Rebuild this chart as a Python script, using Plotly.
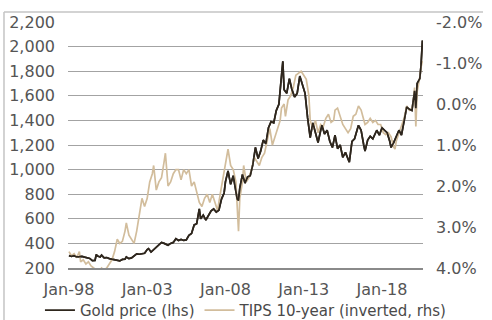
import plotly.graph_objects as go

# ---- data ----
gold_dates = ["1998-01","1998-03","1998-05","1998-07","1998-09","1998-11","1999-01","1999-03","1999-05","1999-07",
              "1999-09","1999-10","1999-11","2000-01","2000-02","2000-04","2000-06","2000-08","2000-10","2000-12",
              "2001-02","2001-04","2001-06","2001-08","2001-09","2001-11","2002-01","2002-03","2002-05","2002-07",
              "2002-09","2002-11","2003-01","2003-02","2003-04","2003-06","2003-08","2003-10","2003-12","2004-02",
              "2004-04","2004-05","2004-07","2004-09","2004-11","2005-01","2005-03","2005-05","2005-07","2005-09",
              "2005-11","2006-01","2006-03","2006-05","2006-06","2006-08","2006-10","2006-12","2007-02","2007-04",
              "2007-06","2007-08","2007-10","2007-12","2008-01","2008-03","2008-05","2008-07","2008-09","2008-10",
              "2008-11","2008-12","2009-02","2009-04","2009-06","2009-08","2009-10","2009-12","2010-02","2010-04",
              "2010-06","2010-08","2010-10","2010-12","2011-02","2011-04","2011-06","2011-08","2011-09","2011-10",
              "2011-12","2012-02","2012-04","2012-06","2012-08","2012-10","2012-12","2013-02","2013-04","2013-06",
              "2013-08","2013-10","2013-12","2014-02","2014-03","2014-05","2014-07","2014-09","2014-11","2015-01",
              "2015-03","2015-05","2015-07","2015-09","2015-11","2015-12","2016-02","2016-04","2016-07","2016-09",
              "2016-11","2016-12","2017-02","2017-04","2017-06","2017-09","2017-11","2018-01","2018-03","2018-05",
              "2018-07","2018-08","2018-10","2018-12","2019-02","2019-04","2019-06","2019-08","2019-10","2019-12",
              "2020-01","2020-02","2020-03","2020-04","2020-06","2020-07","2020-08"]
gold_values = [300,295,300,290,292,295,288,285,278,260,
               262,310,298,290,305,282,285,276,270,268,
               262,258,270,272,290,276,282,296,315,312,
               318,320,350,358,330,350,362,382,408,400,
               392,385,400,408,438,424,432,424,428,465,
               480,550,560,680,600,630,590,630,665,680,
               655,670,760,810,900,990,880,950,830,760,
               750,850,960,890,940,950,1040,1180,1090,1150,
               1240,1210,1340,1390,1380,1480,1530,1800,1880,1650,
               1620,1740,1650,1590,1620,1760,1690,1620,1420,1260,
               1380,1300,1220,1320,1360,1290,1320,1230,1180,1280,
               1170,1200,1100,1140,1080,1060,1230,1250,1360,1320,
               1200,1150,1240,1270,1250,1320,1280,1340,1320,1300,
               1230,1180,1220,1270,1320,1280,1400,1510,1490,1480,
               1560,1640,1500,1700,1740,1850,2050]

tips_dates = ["1998-01","1998-03","1998-05","1998-07","1998-09","1998-10","1998-12","1999-02","1999-04","1999-06",
              "1999-08","1999-10","1999-12","2000-02","2000-04","2000-06","2000-08","2000-10","2000-12","2001-02",
              "2001-04","2001-06","2001-08","2001-09","2001-11","2002-01","2002-03","2002-05","2002-07","2002-09",
              "2002-11","2003-01","2003-03","2003-05","2003-06","2003-08","2003-10","2003-12","2004-02","2004-03",
              "2004-05","2004-07","2004-09","2004-11","2005-01","2005-03","2005-05","2005-07","2005-09","2005-11",
              "2006-01","2006-03","2006-05","2006-07","2006-09","2006-11","2007-01","2007-03","2007-05","2007-07",
              "2007-09","2007-11","2008-01","2008-03","2008-05","2008-07","2008-09","2008-10","2008-11","2008-12",
              "2009-02","2009-03","2009-05","2009-07","2009-09","2009-11","2010-01","2010-03","2010-05","2010-07",
              "2010-09","2010-11","2011-01","2011-03","2011-05","2011-07","2011-08","2011-10","2011-11","2012-01",
              "2012-03","2012-05","2012-07","2012-09","2012-11","2013-01","2013-03","2013-05","2013-06","2013-08",
              "2013-10","2013-12","2014-02","2014-04","2014-06","2014-08","2014-10","2014-12","2015-01","2015-03",
              "2015-05","2015-07","2015-09","2015-11","2016-01","2016-03","2016-05","2016-07","2016-09","2016-11",
              "2016-12","2017-02","2017-04","2017-06","2017-08","2017-10","2017-12","2018-02","2018-04","2018-06",
              "2018-08","2018-10","2018-11","2018-12","2019-02","2019-04","2019-06","2019-08","2019-10","2019-12",
              "2020-01","2020-02","2020-03","2020-04","2020-05","2020-06","2020-07","2020-08"]
tips_values = [3.6,3.7,3.65,3.75,3.6,3.85,3.8,3.9,3.85,3.95,
               4.0,4.05,4.1,4.0,4.05,4.0,3.9,3.8,3.6,3.3,
               3.4,3.35,3.1,2.9,3.2,3.3,3.4,3.1,2.7,2.3,
               2.5,2.3,1.9,1.7,1.5,2.1,1.9,1.8,1.4,1.2,
               2.0,1.9,1.7,1.6,1.6,1.85,1.6,1.7,1.6,2.0,
               1.9,2.15,2.4,2.5,2.3,2.2,2.4,2.2,2.4,2.6,
               2.2,1.8,1.4,1.1,1.5,1.6,1.9,2.7,3.1,2.3,
               1.9,1.5,1.9,1.8,1.6,1.3,1.4,1.5,1.3,1.2,
               0.9,0.6,1.0,0.8,0.6,0.4,0.1,0.0,0.3,-0.1,
               -0.2,-0.4,-0.7,-0.75,-0.8,-0.7,-0.6,-0.2,0.4,0.6,
               0.4,0.7,0.5,0.55,0.35,0.25,0.45,0.4,0.15,0.1,
               0.3,0.5,0.6,0.7,0.6,0.3,0.25,0.05,0.15,0.35,
               0.5,0.45,0.35,0.45,0.4,0.5,0.5,0.7,0.75,0.7,
               0.8,1.05,1.1,0.9,0.7,0.55,0.35,0.05,0.15,0.1,
               -0.05,-0.4,0.55,-0.3,-0.45,-0.65,-0.9,-1.05]

x_tick_vals = ["1998-01-01","2003-01-01","2008-01-01","2013-01-01","2018-01-01"]
x_tick_text = ["Jan-98","Jan-03","Jan-08","Jan-13","Jan-18"]
left_tick_vals = [200,400,600,800,1000,1200,1400,1600,1800,2000,2200]
left_tick_text = ["200","400","600","800","1,000","1,200","1,400","1,600","1,800","2,000","2,200"]
right_tick_vals = [-2,-1,0,1,2,3,4]
right_tick_text = ["-2.0%","-1.0%","0.0%","1.0%","2.0%","3.0%","4.0%"]
gold_range = [200, 2200]
tips_range = [4, -2]   # inverted

FONT = "DejaVu Sans"
TXT = "#555555"
GOLD_C = "#2e261d"
TIPS_C = "#d2bd9c"

fig = go.Figure()
# gold on the left axis (this axis carries the gridlines)
fig.add_trace(go.Scatter(x=gold_dates, y=gold_values, mode="lines", showlegend=False, hoverinfo="skip",
                         line=dict(color=GOLD_C, width=1.7), yaxis="y"))
# TIPS on the right (inverted) axis
fig.add_trace(go.Scatter(x=tips_dates, y=tips_values, mode="lines", name="TIPS 10-year (inverted, rhs)",
                         legendrank=2, line=dict(color=TIPS_C, width=1.7), yaxis="y2"))
# gold again on an identical hidden scale so that it sits above the TIPS line
fig.add_trace(go.Scatter(x=gold_dates, y=gold_values, mode="lines", name="Gold price (lhs)",
                         legendrank=1, line=dict(color=GOLD_C, width=1.7), yaxis="y3"))

fig.update_layout(
    width=492, height=320,
    margin=dict(l=68, r=69, t=22, b=52, autoexpand=False),
    paper_bgcolor="white", plot_bgcolor="white",
    font=dict(family=FONT, size=16, color=TXT),
    showlegend=True,
    legend=dict(orientation="h", x=-0.079, xanchor="left", y=-0.172, yanchor="middle",
                font=dict(family=FONT, size=15, color="#4a4a4a"), bgcolor="rgba(0,0,0,0)",
                itemwidth=30, tracegroupgap=0),
    xaxis=dict(type="date", range=["1997-12-10", "2020-08-15"], tickvals=x_tick_vals, ticktext=x_tick_text,
               showgrid=False, showline=True, linecolor="#8a8a8a", linewidth=2, ticks="",
               zeroline=False, ticklabelstandoff=6, tickfont=dict(size=16, color=TXT)),
    yaxis=dict(side="left", range=gold_range, tickvals=left_tick_vals, ticktext=left_tick_text,
               showgrid=True, gridcolor="#a3a3a3", gridwidth=1, zeroline=False, showline=False, ticks="",
               ticklabelstandoff=12, tickfont=dict(size=16, color=TXT)),
    yaxis2=dict(side="right", overlaying="y", range=tips_range, tickvals=right_tick_vals, ticktext=right_tick_text,
                showgrid=False, zeroline=False, showline=False, ticks="", ticklabelstandoff=12,
                tickfont=dict(size=16, color=TXT)),
    yaxis3=dict(side="left", overlaying="y", range=gold_range, showticklabels=False, showgrid=False,
                zeroline=False, showline=False, ticks=""),
    shapes=[
        dict(type="line", xref="paper", yref="paper", x0=-0.1803, x1=1.169, y0=1.0407, y1=1.0407,
             line=dict(color="#c4c4c4", width=1.5)),
        dict(type="line", xref="paper", yref="paper", x0=-0.1803, x1=-0.1803, y0=1.0407, y1=-0.22,
             line=dict(color="#c4c4c4", width=1.5)),
    ],
)

fig.write_html("out.html", config={"displayModeBar": False},
               post_script="document.body.style.margin='0';")
